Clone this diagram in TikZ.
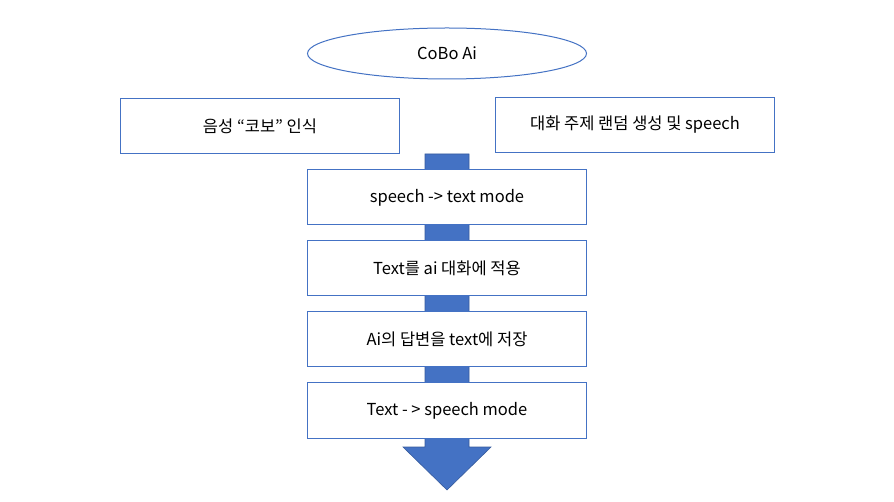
\documentclass[tikz,border=0pt]{standalone}
\usepackage{fontspec}
\setmainfont{Noto Sans CJK KR}
\usetikzlibrary{shapes.geometric}
\definecolor{obl}{HTML}{4472C4}
\tikzset{
  px/.style={x=1pt,y=-1pt},
  boxnode/.style={draw=obl, line width=1pt, fill=white, minimum width=279pt, minimum height=55pt, inner sep=0pt, font=\fontsize{16.5}{20}\selectfont},
  ovalnode/.style={ellipse, draw=obl, line width=1pt, fill=white, minimum width=279pt, minimum height=51pt, inner sep=0pt, font=\fontsize{16.5}{20}\selectfont},
  flowarrow/.style={fill=obl, draw=obl!80!black, line width=0.6pt}
}
\begin{document}
\begin{tikzpicture}[px]
\useasboundingbox (0,0) rectangle (894,502);
\fill[white] (0,0) rectangle (894,502);
% big down arrow
\coordinate (sL) at (425,154);
\coordinate (sR) at (469,154);
\coordinate (bL) at (425,447);
\coordinate (bR) at (469,447);
\coordinate (hL) at (403,447);
\coordinate (hR) at (491,447);
\coordinate (tip) at (447,490);
\draw[flowarrow] (sL) -- (bL) -- (hL) -- (tip) -- (hR) -- (bR) -- (sR) -- cycle;
% nodes
\node[ovalnode] (title) at (447,53.5) {CoBo Ai};
\node[boxnode] (voice) at (260,126) {음성 “코보” 인식};
\node[boxnode] (topic) at (635,125) {대화 주제 랜덤 생성 및 speech};
\node[boxnode] (s2t) at (447,197.5) {speech -> text mode};
\node[boxnode] (apply) at (447,268.5) {Text를 ai 대화에 적용};
\node[boxnode] (save) at (447,339.5) {Ai의 답변을 text에 저장};
\node[boxnode] (t2s) at (447,410.5) {Text - > speech mode};
\end{tikzpicture}
\end{document}
